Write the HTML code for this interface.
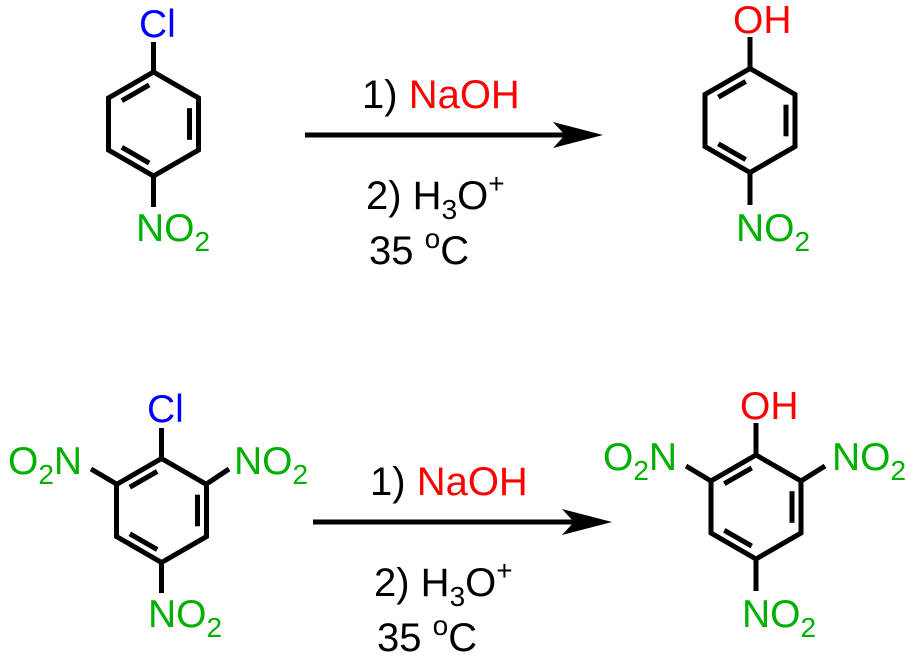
<!DOCTYPE html>
<html><head><meta charset="utf-8"><style>
html,body{margin:0;padding:0;background:#fff;}
svg{display:block;}
text{font-family:"Liberation Sans",Arial,sans-serif;}
.g{fill:#00b000;font-size:39px;}
.r{fill:#ff0000;}
.b{fill:#0000ff;font-size:39px;}
.k{fill:#000;font-size:40px;}
</style></head><body>
<svg width="922" height="666" viewBox="0 0 922 666" xmlns="http://www.w3.org/2000/svg">
<defs>
<g id="ring" stroke="#000" stroke-width="5" fill="none" stroke-linejoin="miter" stroke-linecap="butt">
<polygon points="0,-52 45,-26 45,26 0,52 -45,26 -45,-26"/>
<line x1="-4.3" y1="-39.1" x2="-31.7" y2="-23.3"/>
<line x1="36" y1="-15.8" x2="36" y2="15.8"/>
<line x1="-31.7" y1="23.3" x2="-4.3" y2="39.1"/>
</g>
</defs>
<g stroke="#000" stroke-width="5">
<line x1="153.5" y1="72" x2="153.5" y2="42"/>
<line x1="153.5" y1="176" x2="153.5" y2="207"/>
<line x1="750" y1="68" x2="750" y2="37"/>
<line x1="750" y1="173" x2="750" y2="205"/>
<line x1="161.5" y1="458" x2="161.5" y2="428"/>
<line x1="116.5" y1="484" x2="91" y2="469"/>
<line x1="206.5" y1="484" x2="229" y2="469"/>
<line x1="161.5" y1="563" x2="161.5" y2="593"/>
<line x1="756" y1="455" x2="756" y2="423"/>
<line x1="711" y1="481" x2="686" y2="466"/>
<line x1="801" y1="481" x2="825" y2="466"/>
<line x1="756" y1="559" x2="756" y2="591"/>
<line x1="305" y1="135" x2="565" y2="135"/>
<line x1="313" y1="522" x2="574" y2="522"/>
</g>
<use href="#ring" transform="translate(153.5,124)"/>
<use href="#ring" transform="translate(750,120.5)"/>
<use href="#ring" transform="translate(161.5,510.5)"/>
<use href="#ring" transform="translate(756,507)"/>
<polygon points="603,135 553,122 565,135 553,148" fill="#000"/>
<polygon points="612,522 562,509 574,522 562,535" fill="#000"/>

<text class="b" x="139" y="37">Cl</text>
<text class="g" x="136" y="241">NO<tspan font-size="28" dy="10">2</tspan></text>
<text class="g r" x="733" y="33">OH</text>
<text class="g" x="736" y="241">NO<tspan font-size="28" dy="10">2</tspan></text>

<text class="b" x="147" y="422">Cl</text>
<text class="g" x="8" y="474">O<tspan font-size="28" dy="10">2</tspan><tspan dy="-10">N</tspan></text>
<text class="g" x="234" y="474">NO<tspan font-size="28" dy="10">2</tspan></text>
<text class="g" x="148" y="627">NO<tspan font-size="28" dy="10">2</tspan></text>

<text class="g r" x="740" y="419">OH</text>
<text class="g" x="603" y="470">O<tspan font-size="28" dy="10">2</tspan><tspan dy="-10">N</tspan></text>
<text class="g" x="832" y="470">NO<tspan font-size="28" dy="10">2</tspan></text>
<text class="g" x="742" y="627">NO<tspan font-size="28" dy="10">2</tspan></text>

<text class="k" x="362" y="108">1) <tspan fill="#ff0000">NaOH</tspan></text>
<text class="k" x="366" y="209">2) H<tspan font-size="28" dy="10">3</tspan><tspan dy="-10">O</tspan><tspan font-size="28" dy="-16">+</tspan></text>
<text class="k" x="369" y="264">35 <tspan font-size="28" dy="-16">o</tspan><tspan dy="16">C</tspan></text>
<text class="k" x="370" y="495">1) <tspan fill="#ff0000">NaOH</tspan></text>
<text class="k" x="374" y="596">2) H<tspan font-size="28" dy="10">3</tspan><tspan dy="-10">O</tspan><tspan font-size="28" dy="-16">+</tspan></text>
<text class="k" x="377" y="651">35 <tspan font-size="28" dy="-16">o</tspan><tspan dy="16">C</tspan></text>
</svg>
</body></html>
